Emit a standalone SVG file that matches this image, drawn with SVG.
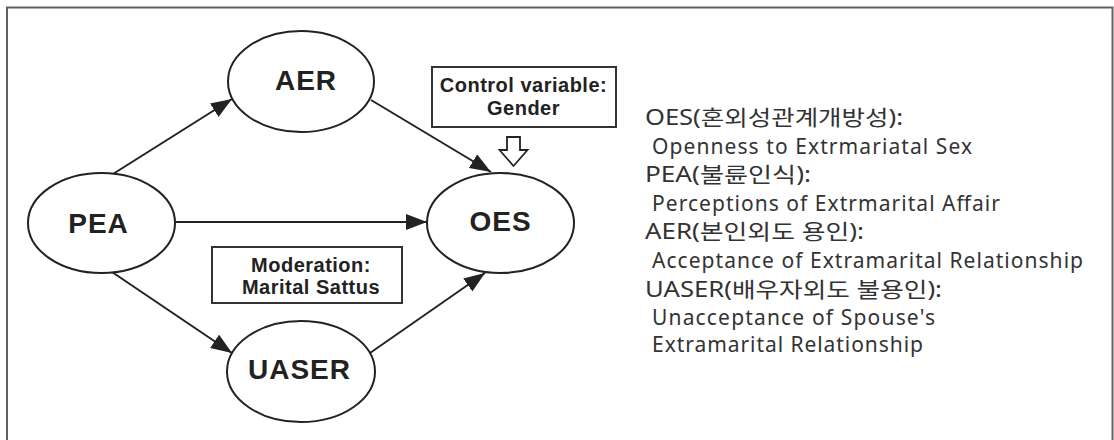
<svg xmlns="http://www.w3.org/2000/svg" width="1114" height="440" viewBox="0 0 1114 440">
<style>
.frame{fill:none;stroke:#606060;stroke-width:2}
.node{fill:#fff;stroke:#222;stroke-width:2}
.lbl{font-family:"Liberation Sans",Arial,sans-serif;font-weight:bold;font-size:28px;fill:#222;text-anchor:middle;letter-spacing:1px}
.box{fill:#fff;stroke:#333;stroke-width:2}
.btxt{font-family:"Liberation Sans",Arial,sans-serif;font-weight:bold;font-size:20px;fill:#222;text-anchor:middle;letter-spacing:0.5px}
.edge{stroke:#222;stroke-width:2;fill:none;marker-end:url(#ah)}
.leg{font-family:"Noto Sans","Noto Sans CJK KR",sans-serif;font-size:21px;fill:#333}
</style>
<defs>
<marker id="ah" markerUnits="userSpaceOnUse" markerWidth="21" markerHeight="16" refX="21" refY="8" orient="auto">
<path d="M0,0 L21,8 L0,16 z" fill="#222"/>
</marker>
</defs>
<rect class="frame" x="7" y="7.5" width="1105.5" height="450"/>
<g id="connectors">
<line class="edge" x1="113" y1="174" x2="232" y2="99"/>
<line class="edge" x1="371" y1="100" x2="491" y2="172"/>
<line class="edge" x1="175" y1="222" x2="427" y2="222"/>
<line class="edge" x1="112" y1="272" x2="232" y2="353"/>
<line class="edge" x1="370" y1="353" x2="485" y2="273"/>
</g>
<g id="AER">
<ellipse class="node" cx="301" cy="81.5" rx="73" ry="50.5"/>
<text class="lbl" x="306" y="90">AER</text>
</g>
<g id="PEA">
<ellipse class="node" cx="101.5" cy="223" rx="73.5" ry="50"/>
<text class="lbl" x="98.5" y="233">PEA</text>
</g>
<g id="OES">
<ellipse class="node" cx="500.5" cy="223" rx="73.5" ry="50"/>
<text class="lbl" x="500.5" y="231">OES</text>
</g>
<g id="UASER">
<ellipse class="node" cx="301" cy="371.5" rx="74" ry="50.5"/>
<text class="lbl" x="299.5" y="379">UASER</text>
</g>
<g id="control">
<rect class="box" x="432" y="67" width="184" height="60"/>
<text class="btxt" x="523.5" y="92">Control variable:</text>
<text class="btxt" x="523.5" y="115">Gender</text>
<path d="M507,137 H520 V150 H527.5 L513.5,166 L499.5,150 H507 Z" fill="#fff" stroke="#222" stroke-width="1.8" stroke-linejoin="miter"/>
</g>
<g id="moderation">
<rect class="box" x="212" y="247" width="190" height="56"/>
<text class="btxt" x="311" y="272">Moderation:</text>
<text class="btxt" x="311" y="294">Marital Sattus</text>
</g>
<g id="legend">
<text class="leg" x="645" y="125" textLength="258" lengthAdjust="spacingAndGlyphs">OES(혼외성관계개방성):</text>
<text class="leg" x="652" y="154" textLength="320">Openness to Extrmariatal Sex</text>
<text class="leg" x="645" y="182" textLength="166" lengthAdjust="spacingAndGlyphs">PEA(불륜인식):</text>
<text class="leg" x="652" y="211" textLength="348">Perceptions of Extrmarital Affair</text>
<text class="leg" x="645" y="239" textLength="219" lengthAdjust="spacingAndGlyphs">AER(본인외도 용인):</text>
<text class="leg" x="652" y="268" textLength="431">Acceptance of Extramarital Relationship</text>
<text class="leg" x="645" y="297" textLength="297" lengthAdjust="spacingAndGlyphs">UASER(배우자외도 불용인):</text>
<text class="leg" x="652" y="325" textLength="283">Unacceptance of Spouse's</text>
<text class="leg" x="652" y="352" textLength="271">Extramarital Relationship</text>
</g>
</svg>
